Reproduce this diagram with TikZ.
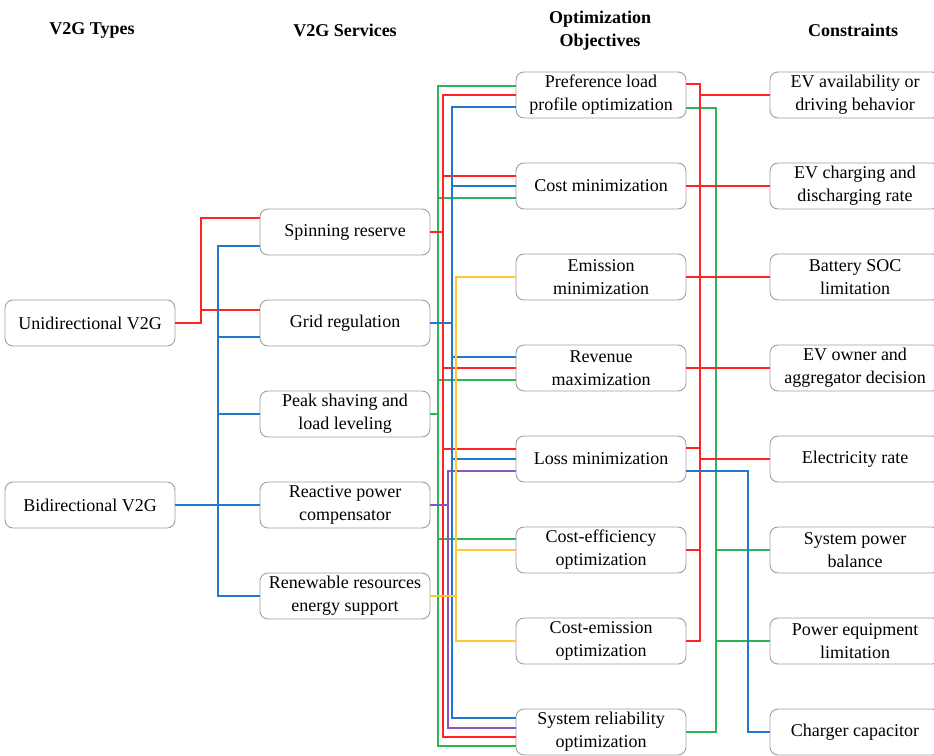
\documentclass[tikz,border=0pt]{standalone}
\usepackage{fontspec}
\setmainfont{Liberation Serif}
\usetikzlibrary{calc}
\definecolor{wred}{RGB}{255,35,35}
\definecolor{wgreen}{RGB}{45,180,85}
\definecolor{wblue}{RGB}{35,120,205}
\definecolor{wyellow}{RGB}{255,200,50}
\definecolor{wpurple}{RGB}{140,85,190}

\begin{document}
\begin{tikzpicture}[x=1pt,y=-1pt,
  box/.style={draw=black!38,line width=0.9,rounded corners=8,minimum width=170,minimum height=46,inner sep=0,align=center,font=\fontsize{18}{23}\selectfont},
  head/.style={align=center,font=\bfseries\fontsize{18}{23}\selectfont},
  wire/.style={line width=1.6}]
 \useasboundingbox (0,0) rectangle (934,755);
 \node[head] (htype) at (92,30) {V2G Types};
 \node[head] (hserv) at (345,30) {V2G Services};
 \node[head] (hobj) at (600,31) {Optimization\\Objectives};
 \node[head] (hcons) at (853,30) {Constraints};

 \node[box] (uni) at (90,323) {Unidirectional V2G};
 \node[box] (bi) at (90,505) {Bidirectional V2G};

 \node[box] (sr) at (345,232) {Spinning reserve};
 \node[box] (gr) at (345,323) {Grid regulation};
 \node[box] (ps) at (345,414) {Peak shaving and\\load leveling};
 \node[box] (rp) at (345,505) {Reactive power\\compensator};
 \node[box] (re) at (345,596) {Renewable resources\\energy support};

 \node[box] (pl) at (601,95) {Preference load\\profile optimization};
 \node[box] (cm) at (601,186) {Cost minimization};
 \node[box] (em) at (601,277) {Emission\\minimization};
 \node[box] (rv) at (601,368) {Revenue\\maximization};
 \node[box] (lm) at (601,459) {Loss minimization};
 \node[box] (ce) at (601,550) {Cost-efficiency\\optimization};
 \node[box] (cem) at (601,641) {Cost-emission\\optimization};
 \node[box] (sro) at (601,732) {System reliability\\optimization};

 \node[box] (evav) at (855,95) {EV availability or\\driving behavior};
 \node[box] (evch) at (855,186) {EV charging and\\discharging rate};
 \node[box] (soc) at (855,277) {Battery SOC\\limitation};
 \node[box] (evow) at (855,368) {EV owner and\\aggregator decision};
 \node[box] (erate) at (855,459) {Electricity rate};
 \node[box] (pbal) at (855,550) {System power\\balance};
 \node[box] (peq) at (855,641) {Power equipment\\limitation};
 \node[box] (chg) at (855,732) {Charger capacitor};

 \coordinate (lr) at (201,0);
 \coordinate (lb) at (218,0);
 \coordinate (gx) at (438,0);
 \coordinate (rx) at (443,0);
 \coordinate (px) at (448,0);
 \coordinate (bx) at (452,0);
 \coordinate (yx) at (456,0);
 \coordinate (rr) at (700,0);
 \coordinate (rg) at (716,0);
 \coordinate (rb) at (748,0);

 \draw[wire,wred] (uni.east) -| ([yshift=14]sr.west -| lr) -- ([yshift=14]sr.west);
 \draw[wire,wred] ([yshift=13]gr.west) -- ([yshift=13]gr.west -| lr);
 \draw[wire,wblue] ([yshift=-14]sr.west) -| (re.west -| lb) -- (re.west);
 \draw[wire,wblue] ([yshift=-14]gr.west) -- ([yshift=-14]gr.west -| lb);
 \draw[wire,wblue] (ps.west) -- (ps.west -| lb);
 \draw[wire,wblue] (bi.east) -- (rp.west);

 \draw[wire,wgreen] ([yshift=9]pl.west) -| ([yshift=-14]sro.west -| gx) -- ([yshift=-14]sro.west);
 \draw[wire,wgreen] (ps.east) -- (ps.east -| gx);
 \draw[wire,wgreen] ([yshift=-12]cm.west) -- ([yshift=-12]cm.west -| gx);
 \draw[wire,wgreen] ([yshift=-12]rv.west) -- ([yshift=-12]rv.west -| gx);
 \draw[wire,wgreen] ([yshift=11]ce.west) -- ([yshift=11]ce.west -| gx);

 \draw[wire,wred] (pl.west) -| ([yshift=-5]sro.west -| rx) -- ([yshift=-5]sro.west);
 \draw[wire,wred] (sr.east) -- (sr.east -| rx);
 \draw[wire,wred] ([yshift=10]cm.west) -- ([yshift=10]cm.west -| rx);
 \draw[wire,wred] (rv.west) -- (rv.west -| rx);
 \draw[wire,wred] ([yshift=10]lm.west) -- ([yshift=10]lm.west -| rx);

 \draw[wire,wpurple] ([yshift=-12]lm.west) -| ([yshift=4]sro.west -| px) -- ([yshift=4]sro.west);
 \draw[wire,wpurple] (rp.east) -- (rp.east -| px);

 \draw[wire,wblue] ([yshift=-12]pl.west) -| ([yshift=14]sro.west -| bx) -- ([yshift=14]sro.west);
 \draw[wire,wblue] (gr.east) -- (gr.east -| bx);
 \draw[wire,wblue] (cm.west) -- (cm.west -| bx);
 \draw[wire,wblue] ([yshift=11]rv.west) -- ([yshift=11]rv.west -| bx);
 \draw[wire,wblue] (lm.west) -- (lm.west -| bx);

 \draw[wire,wyellow] (em.west) -| (cem.west -| yx) -- (cem.west);
 \draw[wire,wyellow] (ce.west) -- (ce.west -| yx);
 \draw[wire,wyellow] (re.east) -- (re.east -| yx);

 \draw[wire,wgreen] ([yshift=-13]pl.east) -| (sro.east -| rg) -- (sro.east);
 \draw[wire,wgreen] (pbal.west) -- (pbal.west -| rg);
 \draw[wire,wgreen] (peq.west) -- (peq.west -| rg);

 \draw[wire,wred] ([yshift=11]pl.east) -| (cem.east -| rr) -- (cem.east);
 \draw[wire,wred] (evav.west) -- (evav.west -| rr);
 \draw[wire,wred] (cm.east) -- (evch.west);
 \draw[wire,wred] (em.east) -- (soc.west);
 \draw[wire,wred] (rv.east) -- (evow.west);
 \draw[wire,wred] ([yshift=11]lm.east) -- ([yshift=11]lm.east -| rr);
 \draw[wire,wred] (erate.west) -- (erate.west -| rr);
 \draw[wire,wred] (ce.east) -- (ce.east -| rr);

 \draw[wire,wblue] ([yshift=-12]lm.east) -| (chg.west -| rb) -- (chg.west);
\end{tikzpicture}
\end{document}
